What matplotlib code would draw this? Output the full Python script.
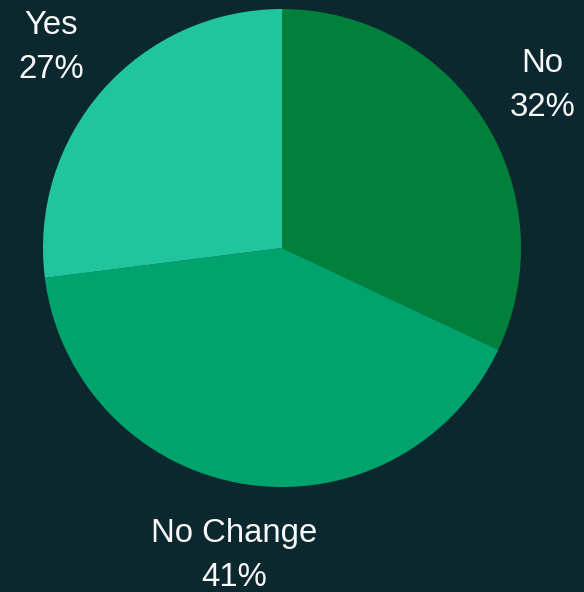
import matplotlib
matplotlib.use("Agg")
import matplotlib.pyplot as plt

# Data
labels = ["No", "No Change", "Yes"]
shares = [32, 41, 27]
colors = ["#00803a", "#00a36b", "#20c49d"]
bg = "#0b282e"

plt.rcParams['font.family'] = ['Liberation Sans', 'DejaVu Sans']

fig = plt.figure(figsize=(5.84, 5.92), dpi=100, facecolor=bg)
ax = fig.add_axes([0, 0, 1, 1])
ax.set_facecolor(bg)

# pie centre at (282, 248) px from top-left, radius 239 px
r_px = 239.0

wedges, texts = ax.pie(
    shares,
    labels=[f"{l}\n{s}%" for l, s in zip(labels, shares)],
    colors=colors,
    startangle=90,
    counterclock=False,
    labeldistance=1.29,
    radius=1.0,
    frame=True,
    textprops=dict(color="#f8f8f8", fontsize=23.7, linespacing=1.55),
)
for t in texts:
    t.set_ha("center")
    t.set_va("center")
    x, y = t.get_position()
    t.set_position((x, y - 3 / r_px))

ax.set_xlim(-282 / r_px, (584 - 282) / r_px)
ax.set_ylim(-(592 - 248) / r_px, 248 / r_px)
ax.set_aspect("auto")
ax.axis("off")

fig.savefig("out.png", dpi=100, facecolor=bg)
